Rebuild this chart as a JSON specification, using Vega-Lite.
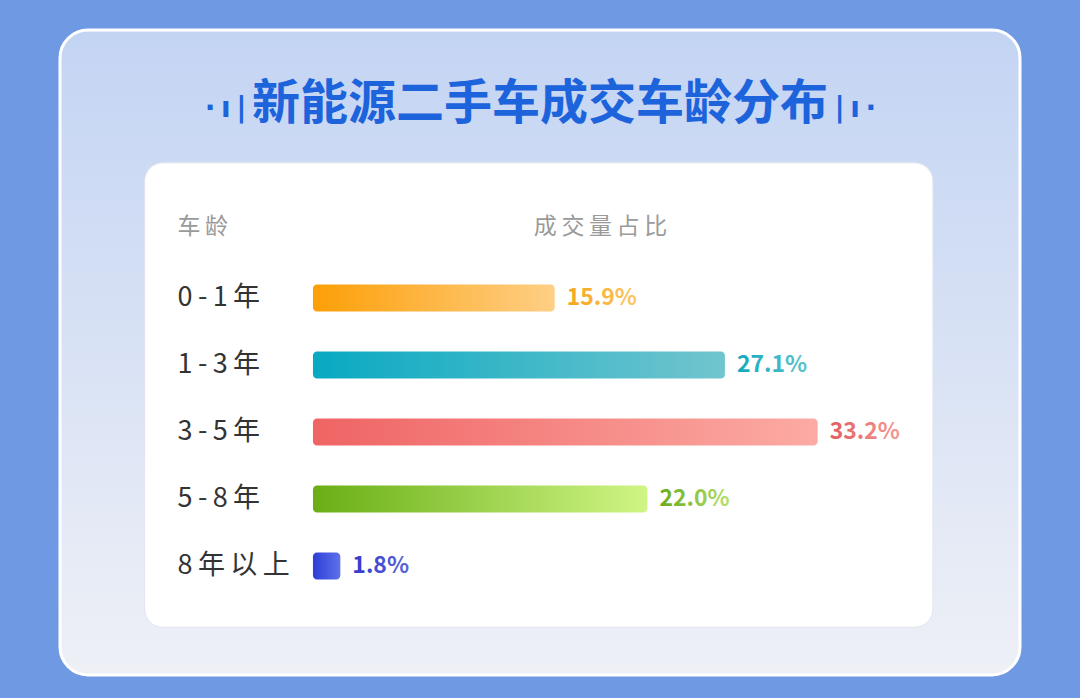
{
  "$schema": "https://vega.github.io/schema/vega-lite/v6.json",
  "width": 960,
  "height": 645,
  "autosize": {"type": "none"},
  "padding": {"left": 60, "top": 30, "right": 60, "bottom": 23},
  "background": "#7099e3",
  "view": {
    "fill": {"gradient": "linear", "x1": 0, "y1": 0, "x2": 0, "y2": 1, "stops": [{"offset": 0, "color": "#c3d4f3"}, {"offset": 1, "color": "#eef0f6"}]},
    "stroke": "#ffffff",
    "strokeWidth": 3,
    "cornerRadius": 28
  },
  "title": {
    "text": "新能源二手车成交车龄分布",
    "anchor": "middle",
    "frame": "group",
    "offset": -123,
    "baseline": "middle",
    "font": "Noto Sans CJK SC",
    "fontSize": 48,
    "fontWeight": "bold",
    "color": "#1c63dc"
  },
  "layer": [
    {
      "data": {"values": [{"panel": "card"}]},
      "mark": {"type": "rect", "fill": "#ffffff", "cornerRadius": 18, "stroke": "#e1e5ee", "strokeWidth": 1},
      "encoding": {
        "x": {
          "datum": -0.1107, "type": "quantitative",
          "scale": {"domain": [-0.1664, 0.4651], "nice": false, "zero": false},
          "axis": {"orient": "top", "labels": false, "ticks": false, "domain": false, "grid": false,
            "title": "成\u2009交\u2009量\u2009占\u2009比", "titleX": 540, "titleY": 196, "titleBaseline": "middle", "titleAlign": "center",
            "titleFont": "Noto Sans CJK SC", "titleFontSize": 23, "titleFontWeight": "normal", "titleColor": "#9a9a9a", "zindex": 1}
        },
        "x2": {"datum": 0.4078},
        "y": {
          "datum": 0.206, "type": "quantitative",
          "scale": {"domain": [0, 1], "reverse": true, "nice": false, "zero": false},
          "axis": {"orient": "right", "labels": false, "ticks": false, "domain": false, "grid": false,
            "title": "·\u2009ı\u2009|\u2003\u2003\u2003\u2003\u2003\u2003\u2003\u2003\u2003\u2003\u2003\u2003\u2003\u2003\u2003\u2003\u2003\u2003\u2003\u2003\u2003|\u2009ı\u2009·",
            "titleAngle": 0, "titleX": -480, "titleY": 78, "titleAlign": "center", "titleBaseline": "middle",
            "titleFont": "DejaVu Sans", "titleFontSize": 28, "titleFontWeight": "bold", "titleColor": "#1c63dc", "zindex": 1}
        },
        "y2": {"datum": 0.926}
      }
    },
    {
      "data": {
        "values": [
          {"age": "0-1年", "share": 0.159},
          {"age": "1-3年", "share": 0.271},
          {"age": "3-5年", "share": 0.332},
          {"age": "5-8年", "share": 0.220},
          {"age": "8年以上", "share": 0.018}
        ]
      },
      "encoding": {
        "y": {
          "field": "age", "type": "nominal", "sort": ["0-1年", "1-3年", "3-5年", "5-8年", "8年以上"],
          "scale": {"paddingInner": 0.6, "paddingOuter": 0, "range": [254.6, 549.4]},
          "axis": {"orient": "left", "title": "车\u2009龄", "titleAngle": 0, "titleAlign": "left", "titleBaseline": "middle",
            "titleX": 117, "titleY": 196, "titleFont": "Noto Sans CJK SC", "titleFontSize": 23, "titleFontWeight": "normal", "titleColor": "#9a9a9a",
            "labelExpr": "join(split(datum.label, ''), '\u2009')",
            "labelAlign": "left", "labelBaseline": "middle", "labelPadding": -117, "tickSize": 0, "ticks": false, "domain": false, "grid": false,
            "labelFont": "Noto Sans CJK SC", "labelFontSize": 27, "labelColor": "#333333", "zindex": 1}
        },
        "x": {
          "field": "share", "type": "quantitative",
          "scale": {"domain": [-0.1664, 0.4651], "nice": false, "zero": false},
          "axis": {"orient": "top", "labels": false, "ticks": false, "domain": false, "grid": false,
            "title": "成\u2009交\u2009量\u2009占\u2009比", "titleX": 540, "titleY": 196, "titleBaseline": "middle", "titleAlign": "center",
            "titleFont": "Noto Sans CJK SC", "titleFontSize": 23, "titleFontWeight": "normal", "titleColor": "#9a9a9a", "zindex": 1}
        }
      },
      "layer": [
        {
          "mark": {"type": "bar", "cornerRadius": 4},
          "encoding": {
            "x2": {"datum": 0},
            "fill": {
              "condition": [
                {"test": "datum.age === '0-1年'", "value": {"gradient": "linear", "x1": 0, "y1": 0, "x2": 1, "y2": 0, "stops": [{"offset": 0, "color": "#fd9f07"}, {"offset": 1, "color": "#fecf86"}]}},
                {"test": "datum.age === '1-3年'", "value": {"gradient": "linear", "x1": 0, "y1": 0, "x2": 1, "y2": 0, "stops": [{"offset": 0, "color": "#08a9c2"}, {"offset": 1, "color": "#72c5ce"}]}},
                {"test": "datum.age === '3-5年'", "value": {"gradient": "linear", "x1": 0, "y1": 0, "x2": 1, "y2": 0, "stops": [{"offset": 0, "color": "#ef6464"}, {"offset": 1, "color": "#fcaba4"}]}},
                {"test": "datum.age === '5-8年'", "value": {"gradient": "linear", "x1": 0, "y1": 0, "x2": 1, "y2": 0, "stops": [{"offset": 0, "color": "#69ae15"}, {"offset": 1, "color": "#cff585"}]}}
              ],
              "value": {"gradient": "linear", "x1": 0, "y1": 0, "x2": 1, "y2": 0, "stops": [{"offset": 0, "color": "#2e3ed6"}, {"offset": 1, "color": "#5d72ea"}]}
            }
          }
        },
        {
          "mark": {"type": "text", "align": "left", "baseline": "middle", "dx": 12, "font": "Noto Sans CJK SC", "fontSize": 23, "fontWeight": "bold"},
          "encoding": {
            "text": {"field": "share", "type": "quantitative", "format": ".1%"},
            "fill": {
              "condition": [
                {"test": "datum.age === '0-1年'", "value": {"gradient": "linear", "x1": 0, "y1": 0, "x2": 1, "y2": 0, "stops": [{"offset": 0, "color": "#f6a41c"}, {"offset": 1, "color": "#fbc868"}]}},
                {"test": "datum.age === '1-3年'", "value": {"gradient": "linear", "x1": 0, "y1": 0, "x2": 1, "y2": 0, "stops": [{"offset": 0, "color": "#12a9c0"}, {"offset": 1, "color": "#5cc3cd"}]}},
                {"test": "datum.age === '3-5年'", "value": {"gradient": "linear", "x1": 0, "y1": 0, "x2": 1, "y2": 0, "stops": [{"offset": 0, "color": "#e25d62"}, {"offset": 1, "color": "#f59a96"}]}},
                {"test": "datum.age === '5-8年'", "value": {"gradient": "linear", "x1": 0, "y1": 0, "x2": 1, "y2": 0, "stops": [{"offset": 0, "color": "#6aab1e"}, {"offset": 1, "color": "#b4e06a"}]}}
              ],
              "value": {"gradient": "linear", "x1": 0, "y1": 0, "x2": 1, "y2": 0, "stops": [{"offset": 0, "color": "#3338cc"}, {"offset": 1, "color": "#5a66d8"}]}
            }
          }
        }
      ]
    }
  ],
  "resolve": {"scale": {"y": "independent"}}
}
